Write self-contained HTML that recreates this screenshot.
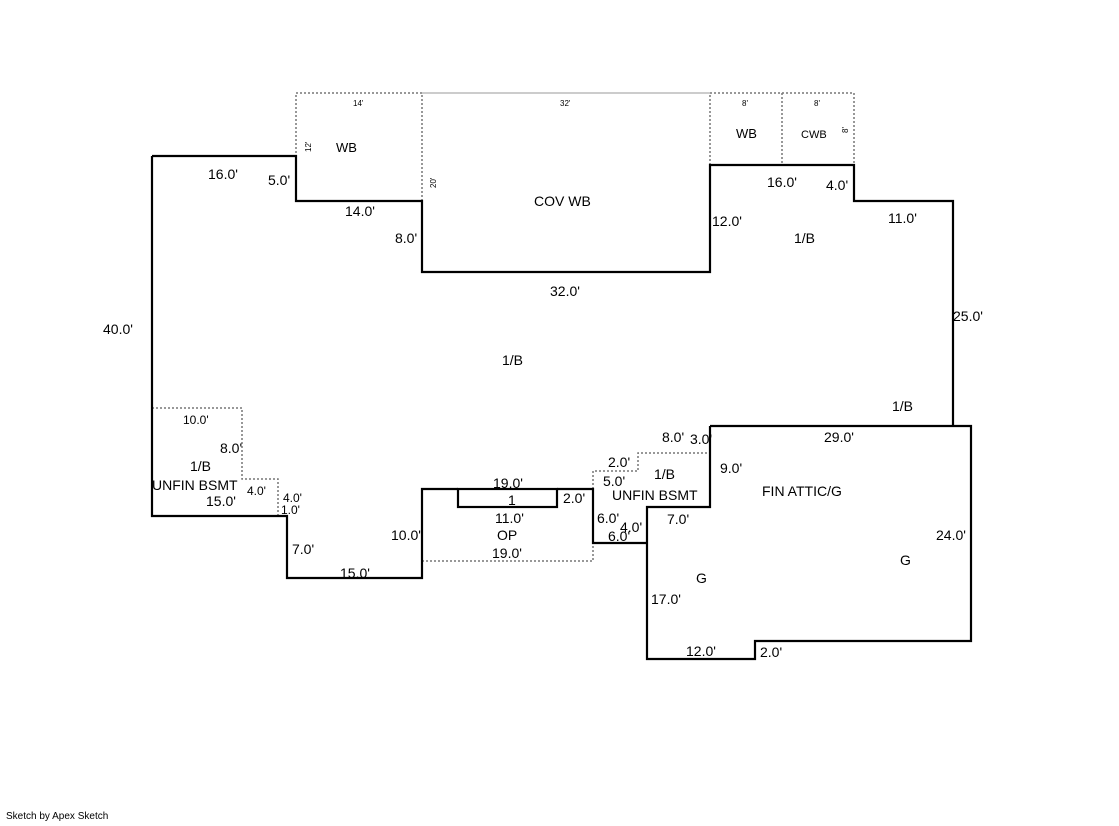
<!DOCTYPE html>
<html><head><style>
body{margin:0;background:#fff}
svg text{font-family:"Liberation Sans",sans-serif;fill:#000}
</style></head><body>
<svg width="1119" height="821" xmlns="http://www.w3.org/2000/svg">
<g fill="none" stroke="#777" stroke-width="1.5" stroke-dasharray="2,2">
<rect x="296" y="93" width="126" height="108"/>
<path d="M710 165V93H854V165M782 93V165"/>
<path d="M152 408H242V479H278V516"/>
<path d="M422 561H593V543M458 489H557"/>
<path d="M593 489V471H638V453H710"/>
</g>
<path d="M422 93H710" stroke="#bbb" stroke-width="1.5"/>
<g fill="none" stroke="#000" stroke-width="2.2">
<path d="M152 156H296V201H422V272H710V165H854V201H953V426"/>
<path d="M152 156V516H287V578H422V489H458M557 489H593V543H647"/>
<rect x="458" y="489" width="99" height="18"/>
<path d="M710 426H971V641H755V659H647V507H710V426"/>
</g>
<g font-size="14">
<text x="208" y="179">16.0'</text><text x="268" y="185">5.0'</text>
<text x="345" y="216">14.0'</text><text x="395" y="243">8.0'</text>
<text x="550" y="296">32.0'</text><text x="712" y="226">12.0'</text>
<text x="767" y="187">16.0'</text><text x="826" y="190">4.0'</text>
<text x="888" y="223">11.0'</text><text x="953" y="321">25.0'</text>
<text x="103" y="334">40.0'</text><text x="502" y="365">1/B</text>
<text x="794" y="243">1/B</text><text x="892" y="411">1/B</text>
<text x="534" y="206">COV WB</text><text x="336" y="152" font-size="13">WB</text>
<text x="736" y="138" font-size="13">WB</text><text x="801" y="138" font-size="11">CWB</text>
<text x="662" y="442">8.0'</text><text x="690" y="444">3.0'</text>
<text x="824" y="442">29.0'</text><text x="720" y="473">9.0'</text>
<text x="762" y="496">FIN ATTIC/G</text><text x="936" y="540">24.0'</text>
<text x="900" y="565">G</text><text x="696" y="583">G</text>
<text x="651" y="604">17.0'</text><text x="686" y="656">12.0'</text>
<text x="760" y="657">2.0'</text><text x="667" y="524">7.0'</text>
<text x="608" y="467">2.0'</text><text x="603" y="486">5.0'</text>
<text x="654" y="479">1/B</text><text x="612" y="500">UNFIN BSMT</text>
<text x="597" y="523">6.0'</text><text x="620" y="532">4.0'</text><text x="608" y="541">6.0'</text>
<text x="493" y="488">19.0'</text><text x="508" y="505">1</text>
<text x="563" y="503">2.0'</text><text x="495" y="523">11.0'</text>
<text x="497" y="540">OP</text><text x="492" y="558">19.0'</text>
<text x="391" y="540">10.0'</text><text x="292" y="554">7.0'</text>
<text x="340" y="578">15.0'</text>
<text x="183" y="424" font-size="12">10.0'</text><text x="220" y="453">8.0'</text>
<text x="190" y="471">1/B</text><text x="152" y="490">UNFIN BSMT</text>
<text x="206" y="506">15.0'</text><text x="247" y="495" font-size="12">4.0'</text>
<text x="283" y="502" font-size="12">4.0'</text><text x="281" y="514" font-size="12">1.0'</text>
</g>
<g font-size="8">
<text x="353" y="106">14'</text><text x="560" y="106">32'</text>
<text x="742" y="106">8'</text><text x="814" y="106">8'</text>
<text transform="translate(311,152) rotate(-90)">12'</text>
<text transform="translate(436,188) rotate(-90)">20'</text>
<text transform="translate(848,133) rotate(-90)">8'</text>
</g>
<text x="6" y="819" font-size="10">Sketch by Apex Sketch</text>
</svg>
</body></html>
